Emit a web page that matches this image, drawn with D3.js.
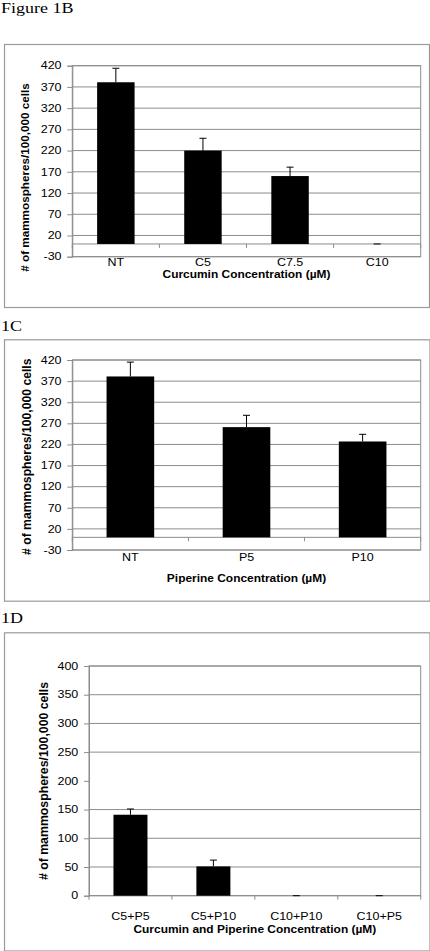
<!DOCTYPE html>
<html><head><meta charset="utf-8">
<script src="https://cdn.jsdelivr.net/npm/d3@7"></script>
<style>body{margin:0;background:#fff}svg{display:block}</style>
</head><body>
<script>
// ---- data ----
const curcuminCategories = ["NT", "C5", "C7.5", "C10"];
const curcuminMeans = [381, 220, 160, 0];
const curcuminErrors = [33, 29, 21, 0];
const curcuminTicks = [-30, 20, 70, 120, 170, 220, 270, 320, 370, 420];

const piperineCategories = ["NT", "P5", "P10"];
const piperineMeans = [381, 261, 227];
const piperineErrors = [34, 28, 17];
const piperineTicks = [-30, 20, 70, 120, 170, 220, 270, 320, 370, 420];

const comboCategories = ["C5+P5", "C5+P10", "C10+P10", "C10+P5"];
const comboMeans = [141, 51, 0, 0];
const comboErrors = [10, 11, 0, 0];
const comboTicks = [0, 50, 100, 150, 200, 250, 300, 350, 400];
const comboGridlines = [50, 100, 150, 250, 300, 350, 400];

const panelTitles = ["Figure 1B", "1C", "1D"];
const xAxisTitles = ["Curcumin Concentration (\u00b5M)", "Piperine Concentration (\u00b5M)", "Curcumin and Piperine Concentration (\u00b5M)"];
const yAxisTitle = "# of mammospheres/100,000 cells";

// ---- layout ----
const panels = [
  {cats: curcuminCategories, means: curcuminMeans, errs: curcuminErrors, ticks: curcuminTicks, grid: curcuminTicks,
   title: panelTitles[0], xTitle: xAxisTitles[0], titleY: 13,
   box: [4, 44, 429, 307], px: [72.3, 420.7], py: [256.7, 65.7], domain: [-30, 420],
   tickX: 61.5, yTX: 29.2, yTY: 177.5, yTS: 11.7, catY: 266.3, xTY: 278.2, ratio: 0.43},
  {cats: piperineCategories, means: piperineMeans, errs: piperineErrors, ticks: piperineTicks, grid: piperineTicks,
   title: panelTitles[1], xTitle: xAxisTitles[1], titleY: 330.5,
   box: [4, 339.3, 429.5, 600.7], px: [72.3, 420.7], py: [550, 360], domain: [-30, 420],
   tickX: 61.5, yTX: 30.8, yTY: 456.7, yTS: 12.2, catY: 560.5, xTY: 581.5, ratio: 0.41},
  {cats: comboCategories, means: comboMeans, errs: comboErrors, ticks: comboTicks, grid: comboGridlines,
   title: panelTitles[2], xTitle: xAxisTitles[2], titleY: 623,
   box: [4, 632.3, 429.5, 950.5], px: [89, 420.7], py: [895.7, 666], domain: [0, 400],
   tickX: 78.3, yTX: 47.5, yTY: 781, yTS: 12.3, catY: 920, xTY: 933, ratio: 0.41}
];

const SX = 1.2; // horizontal stretch of the original scan
const svg = d3.select("body").append("svg").attr("width", 430).attr("height", 951);
const gray = "#8c8c8c";

function stext(g, x, y, txt, size, opts) {
  opts = opts || {};
  return g.append("text")
    .attr("transform", `translate(${x},${y}) scale(${opts.sx || SX},1)`)
    .attr("text-anchor", opts.anchor || "middle")
    .attr("font-family", opts.family || "Arial, 'Liberation Sans', sans-serif")
    .attr("font-weight", opts.weight || "normal")
    .attr("font-size", size)
    .attr("dy", opts.dy || 0)
    .attr("fill", "#000")
    .text(txt);
}

panels.forEach(p => {
  const g = svg.append("g");
  // panel title
  stext(g, 1, p.titleY, p.title, 15, {anchor: "start", family: "'Liberation Serif', 'Times New Roman', serif", sx: 1.2});
  // outer box
  g.append("rect").attr("x", p.box[0] + 0.5).attr("y", p.box[1] + 0.5)
    .attr("width", p.box[2] - p.box[0]).attr("height", p.box[3] - p.box[1])
    .attr("fill", "none").attr("stroke", "#9a9a9a").attr("stroke-width", 1.2);

  const x = d3.scaleBand().domain(p.cats).range(p.px)
    .paddingInner(1 - p.ratio).paddingOuter((1 - p.ratio) / 2);
  const y = d3.scaleLinear().domain(p.domain).range(p.py);
  const step = x.step();
  const zeroY = y(0);

  // gridlines
  g.append("g").selectAll("line").data(p.grid).join("line")
    .attr("x1", p.px[0]).attr("x2", p.px[1])
    .attr("y1", d => y(d)).attr("y2", d => y(d))
    .attr("stroke", gray).attr("stroke-width", 1);
  // plot border
  g.append("rect").attr("x", p.px[0]).attr("y", p.py[1])
    .attr("width", p.px[1] - p.px[0]).attr("height", p.py[0] - p.py[1])
    .attr("fill", "none").attr("stroke", gray).attr("stroke-width", 1);

  // y axis
  const yAxis = d3.axisLeft(y).tickValues(p.ticks).tickSize(5).tickPadding(4).tickFormat(d3.format("d"));
  const ya = g.append("g").attr("transform", `translate(${p.px[0]},0)`).call(yAxis);
  ya.select(".domain").attr("stroke", gray);
  ya.selectAll(".tick line").attr("stroke", gray);
  ya.selectAll(".tick text").remove();
  p.ticks.forEach(t => stext(g, p.tickX, y(t), String(t), 10.4, {anchor: "end", dy: "0.36em"}));

  // x axis at zero, ticks at category boundaries
  g.append("line").attr("x1", p.px[0]).attr("x2", p.px[1]).attr("y1", zeroY).attr("y2", zeroY)
    .attr("stroke", gray).attr("stroke-width", 1);
  const bounds = d3.range(p.cats.length + 1).map(i => p.px[0] + i * step);
  g.append("g").selectAll("line").data(bounds).join("line")
    .attr("x1", d => d).attr("x2", d => d).attr("y1", zeroY).attr("y2", zeroY + 4)
    .attr("stroke", gray).attr("stroke-width", 1);

  // bars
  const data = p.cats.map((c, i) => ({c, v: p.means[i], e: p.errs[i]}));
  g.append("g").selectAll("rect").data(data).join("rect")
    .attr("x", d => x(d.c)).attr("width", x.bandwidth())
    .attr("y", d => y(Math.max(0, d.v))).attr("height", d => Math.abs(y(d.v) - zeroY))
    .attr("fill", "#000");
  // error bars (plus only)
  const eg = g.append("g").attr("stroke", "#000").attr("stroke-width", 1);
  data.forEach(d => {
    const cx = x(d.c) + x.bandwidth() / 2;
    eg.append("line").attr("x1", cx).attr("x2", cx).attr("y1", y(d.v)).attr("y2", y(d.v + d.e));
    eg.append("line").attr("x1", cx - 3.5).attr("x2", cx + 3.5).attr("y1", y(d.v + d.e)).attr("y2", y(d.v + d.e));
  });

  // category labels
  p.cats.forEach(c => stext(g, x(c) + x.bandwidth() / 2, p.catY, c, 10.4));
  // x title
  stext(g, (p.px[0] + p.px[1]) / 2, p.xTY, p.xTitle, 10.2, {weight: "bold", sx: 1.17});
  // y title
  g.append("text")
    .attr("transform", `translate(${p.yTX},${p.yTY}) rotate(-90)`)
    .attr("text-anchor", "middle")
    .attr("font-family", "Arial, 'Liberation Sans', sans-serif")
    .attr("font-weight", "bold").attr("font-size", p.yTS)
    .text(yAxisTitle);
});
</script>
</body></html>
